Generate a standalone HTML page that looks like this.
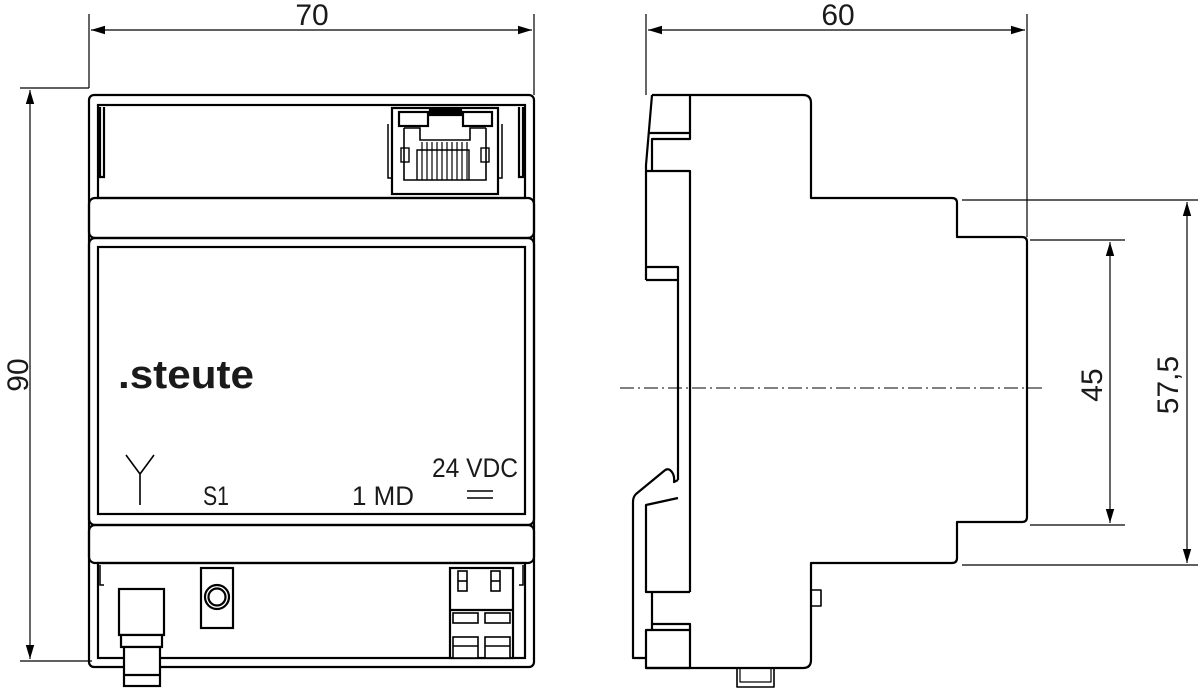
<!DOCTYPE html>
<html><head><meta charset="utf-8"><style>
html,body{margin:0;padding:0;background:#fff;}
svg{display:block;}
text{font-family:"Liberation Sans",sans-serif;fill:#1a1a1a;}
</style></head><body>
<svg width="1200" height="690" viewBox="0 0 1200 690" xmlns="http://www.w3.org/2000/svg">
<defs>
<marker id="a" viewBox="0 0 10 10" refX="10" refY="5" markerWidth="14" markerHeight="14" markerUnits="userSpaceOnUse" orient="auto-start-reverse"><path d="M0,2 L10,5 L0,8 z" fill="#000"/></marker>
</defs>
<g fill="none" stroke="#000" stroke-width="1.2">
<line x1="89" y1="14" x2="89" y2="88"/>
<line x1="534" y1="14" x2="534" y2="95"/>
<line x1="91" y1="30" x2="532" y2="30" marker-start="url(#a)" marker-end="url(#a)"/>
<line x1="20" y1="88" x2="89" y2="88"/>
<line x1="20" y1="661" x2="92" y2="661"/>
<line x1="30" y1="90" x2="30" y2="659" marker-start="url(#a)" marker-end="url(#a)"/>
<line x1="646" y1="14" x2="646" y2="95"/>
<line x1="1027" y1="14" x2="1027" y2="237"/>
<line x1="648" y1="30" x2="1025" y2="30" marker-start="url(#a)" marker-end="url(#a)"/>
<line x1="962" y1="200" x2="1198" y2="200"/>
<line x1="962" y1="565" x2="1198" y2="565"/>
<line x1="1187" y1="202" x2="1187" y2="563" marker-start="url(#a)" marker-end="url(#a)"/>
<line x1="1030" y1="240" x2="1125" y2="240"/>
<line x1="1030" y1="525" x2="1125" y2="525"/>
<line x1="1110" y1="242" x2="1110" y2="523" marker-start="url(#a)" marker-end="url(#a)"/>
<line x1="620" y1="388" x2="1045" y2="388" stroke-width="1" stroke-dasharray="14,4,2,4"/>
</g>
<text x="312" y="25" font-size="30" text-anchor="middle">70</text>
<text x="838" y="25" font-size="30" text-anchor="middle">60</text>
<text transform="translate(28,375) rotate(-90)" font-size="30" text-anchor="middle">90</text>
<text transform="translate(1102,385) rotate(-90)" font-size="30" text-anchor="middle">45</text>
<text transform="translate(1178,385) rotate(-90)" font-size="30" text-anchor="middle">57,5</text>

<!-- FRONT VIEW -->
<g fill="none" stroke="#000" stroke-width="2.2">
<rect x="89" y="95" width="445" height="572" rx="5"/>
<rect x="98" y="105" width="427" height="93"/>
<path d="M100,107 V177 H104 V107 M523,107 V177 H519 V107"/>
<rect x="89" y="198" width="445" height="40" rx="6"/>
<rect x="89" y="238" width="445" height="287" rx="6"/>
<rect x="98" y="247" width="427" height="267"/>
<rect x="89" y="525" width="445" height="38" rx="6"/>
<rect x="98" y="563" width="427" height="95"/>
<path d="M100,565 V585 H104 M523,565 V585 H519" stroke-width="1.5"/>
<rect x="392" y="108" width="106" height="86"/>
<path d="M388,124 V178 H392 M502,124 V178 H498" stroke-width="1.5"/>
<rect x="399" y="112" width="29" height="14" fill="#fff"/>
<rect x="463" y="112" width="29" height="14" fill="#fff"/>
<rect x="430" y="109" width="31" height="6" fill="#000"/>
<path d="M404,128 V180 H486 V128 M404,128 H420 V140 H470 V128 H486" stroke-width="1.6"/>
<rect x="401" y="148" width="8" height="14" stroke-width="1.4"/>
<rect x="481" y="148" width="8" height="14" stroke-width="1.4"/>
<path d="M417,180 V150 H469 V180" stroke-width="1.4"/>
</g>
<g stroke="#000" stroke-width="1.2">
<path d="M422,180 V142 M427,180 V142 M432,180 V142 M437,180 V142 M442,180 V142 M447,180 V142 M452,180 V142 M457,180 V142 M462,180 V142 M467,180 V142"/>
</g>
<g fill="#fff" stroke="#000" stroke-width="2.2">
<rect x="119" y="589" width="45" height="46"/>
<rect x="121" y="635" width="41" height="12"/>
<rect x="124" y="647" width="36" height="39"/>
<line x1="124" y1="675" x2="160" y2="675"/>
<rect x="201" y="568" width="32" height="60"/>
<circle cx="217" cy="597" r="12"/>
<circle cx="217" cy="597" r="8.5"/>
<rect x="450" y="568" width="63" height="90"/>
<line x1="450" y1="610" x2="513" y2="610"/>
<rect x="458" y="571" width="9" height="20" stroke-width="1.6"/>
<line x1="458" y1="581" x2="467" y2="581" stroke-width="1.6"/>
<rect x="491" y="571" width="9" height="20" stroke-width="1.6"/>
<line x1="491" y1="581" x2="500" y2="581" stroke-width="1.6"/>
<rect x="453" y="613" width="25" height="10" stroke-width="1.6"/>
<rect x="485" y="613" width="25" height="10" stroke-width="1.6"/>
<rect x="453" y="637" width="25" height="21" stroke-width="1.6"/>
<rect x="485" y="637" width="25" height="21" stroke-width="1.6"/>
<line x1="453" y1="646" x2="478" y2="646" stroke-width="1.4"/>
<line x1="485" y1="646" x2="510" y2="646" stroke-width="1.4"/>
</g>
<text x="118" y="388" font-size="40" font-weight="bold" textLength="136" lengthAdjust="spacingAndGlyphs">.steute</text>
<text x="203" y="505" font-size="27" textLength="26" lengthAdjust="spacingAndGlyphs">S1</text>
<text x="352" y="505" font-size="27" textLength="62" lengthAdjust="spacingAndGlyphs">1 MD</text>
<text x="432" y="477" font-size="27" textLength="86" lengthAdjust="spacingAndGlyphs">24 VDC</text>
<g stroke="#000" stroke-width="1.6" fill="none">
<path d="M126,455 L140,474 L154,455 M140,474 V505"/>
<line x1="467" y1="491" x2="493" y2="491"/>
<line x1="467" y1="498" x2="493" y2="498"/>
</g>

<!-- SIDE VIEW -->
<g fill="none" stroke="#000" stroke-width="2.2" stroke-linejoin="round">
<path d="M652,95 H803 Q811,95 811,103 V198 H952 Q957,198 957,203 V237 H1022 Q1027,237 1027,242 V517 Q1027,522 1022,522 H957 V558 Q957,563 952,563 H811 V660 Q811,668 803,668 H646"/>
<path d="M652,95 L646,165 V280"/>
<path d="M690,95 V139 H652 V171 M646,171 H690 V592"/>
<path d="M648,133 H690"/>
<path d="M646,267 H678 V480"/>
<path d="M646,280 H678"/>
<path d="M678,480 L674,482 Q675,474 670,470 Q667,468 664,471 L636,494 Q633,497 633,502 V658 H646"/>
<path d="M678,498 L646,505 V592 H690"/>
<path d="M652,592 V624"/>
<rect x="646" y="630" width="44" height="38"/>
<path d="M652,630 V624 H690 V630"/>
<rect x="811" y="590" width="10" height="16" stroke-width="1.6"/>
<rect x="737" y="668" width="37" height="19" stroke-width="1.6"/>
<path d="M740,668 V682 H771 V668" stroke-width="1.2"/>
</g>
</svg>
</body></html>
